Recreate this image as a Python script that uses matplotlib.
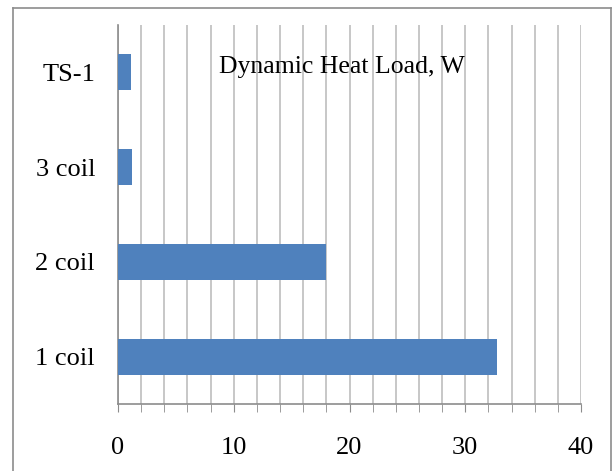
import matplotlib
matplotlib.use("Agg")
import matplotlib.pyplot as plt
from matplotlib.lines import Line2D

categories = ["1 coil", "2 coil", "3 coil", "TS-1"]
heat_load = [32.7, 18.0, 1.2, 1.1]
x_ticks = [0, 10, 20, 30, 40]

plt.rcParams['font.family'] = ['Liberation Serif', 'DejaVu Serif']

fig = plt.figure(figsize=(6.13, 4.71), dpi=100)
ax = fig.add_axes([118/613, 1 - 404/471, (581 - 118)/613, (404 - 25)/471])

ax.barh(categories, heat_load, height=0.38, color='#4f81bd', zorder=3)

ax.set_xlim(0, 40)
ax.set_ylim(-0.5, 3.5)
ax.set_xticks(x_ticks)
ax.set_xticks(range(0, 41, 2), minor=True)
ax.grid(True, axis='x', which='both', color='#bdbdbd', lw=1.2, zorder=0)
ax.tick_params(axis='x', which='both', direction='out', length=6,
               color='#8c8c8c', labelsize=19, pad=18)
ax.tick_params(axis='y', length=0, labelsize=19, pad=16.5)

for s in ['top', 'right']:
    ax.spines[s].set_visible(False)
ax.spines['left'].set_color('#8c8c8c')
ax.spines['bottom'].set_color('#8c8c8c')
ax.spines['left'].set_linewidth(1.2)
ax.spines['bottom'].set_linewidth(1.2)

ax.text(0.484, 0.889, "Dynamic Heat Load, W", transform=ax.transAxes,
        ha='center', va='center', fontsize=18.5)

# chart area border
bx0, bx1, by1 = 13/613, 611/613, 1 - 8/471
for xs, ys in [([bx0, bx0], [0, by1]), ([bx0, bx1], [by1, by1]),
               ([bx1, bx1], [by1, 0])]:
    fig.add_artist(Line2D(xs, ys, transform=fig.transFigure,
                          color='#8c8c8c', lw=1.2))

fig.savefig("out.png", dpi=100)
